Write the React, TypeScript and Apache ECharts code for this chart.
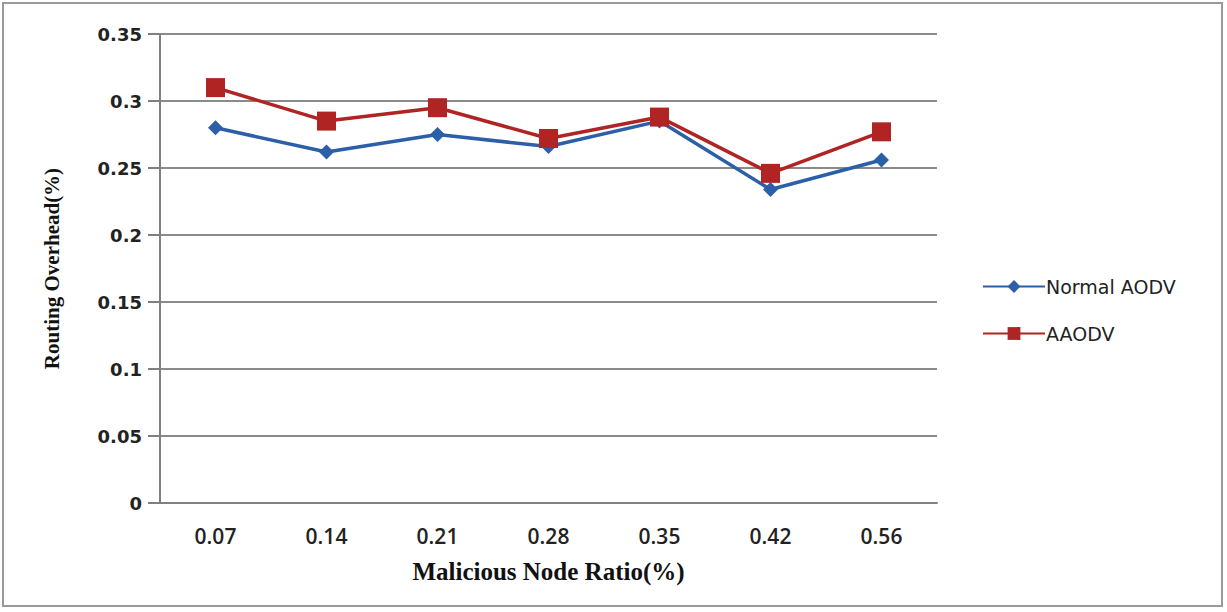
import React, { useEffect, useRef } from "react";
import * as echarts from "echarts";

const categories = ["0.07", "0.14", "0.21", "0.28", "0.35", "0.42", "0.56"];
const normalAODV = [0.28, 0.262, 0.275, 0.266, 0.285, 0.234, 0.256];
const aaodv = [0.31, 0.285, 0.295, 0.272, 0.288, 0.246, 0.277];
const seriesNames = ["Normal AODV", "AAODV"];

export default function App() {
  const ref = useRef<HTMLDivElement>(null);
  useEffect(() => {
    const chart = echarts.init(ref.current!, null, { renderer: "svg" });
    chart.setOption({
      animation: false,
      backgroundColor: "#fff",
      graphic: [
        {
          type: "rect",
          shape: { x: 3, y: 3, width: 1219, height: 603 },
          style: { fill: "none", stroke: "#9a9a9a", lineWidth: 2 },
          silent: true,
        },
      ],
      grid: { left: 160, right: 290, top: 34, bottom: 109, containLabel: false },
      legend: {
        orient: "vertical",
        left: 977,
        top: 272,
        itemWidth: 62,
        itemHeight: 16,
        itemGap: 28,
        data: seriesNames,
        textStyle: { fontFamily: "DejaVu Sans", fontSize: 19, color: "#222", padding: [0, 0, 0, -4] },
      },
      xAxis: {
        type: "category",
        data: categories,
        boundaryGap: true,
        axisLine: { lineStyle: { color: "#808080", width: 2 } },
        axisTick: { show: false },
        axisLabel: {
          fontFamily: "Open Sans",
          fontWeight: 600,
          fontSize: 21,
          color: "#222",
          margin: 22,
        },
        name: "Malicious Node Ratio(%)",
        nameLocation: "middle",
        nameGap: 56,
        nameTextStyle: {
          fontFamily: "Liberation Serif",
          fontWeight: "bold",
          fontSize: 25,
          color: "#111",
        },
      },
      yAxis: {
        type: "value",
        min: 0,
        max: 0.35,
        interval: 0.05,
        axisLine: { show: true, lineStyle: { color: "#808080", width: 2 } },
        axisTick: { show: true, length: 12, lineStyle: { color: "#808080", width: 2 } },
        splitLine: { lineStyle: { color: "#8a8a8a", width: 2 } },
        axisLabel: {
          fontFamily: "DejaVu Sans",
          fontWeight: "bold",
          fontSize: 18,
          color: "#222",
          margin: 18,
          formatter: (v: number) => String(Number(v.toFixed(2))),
        },
        name: "Routing Overhead(%)",
        nameLocation: "middle",
        nameGap: 98,
        nameTextStyle: {
          fontFamily: "Liberation Serif",
          fontWeight: "bold",
          fontSize: 21,
          color: "#111",
        },
      },
      series: [
        {
          name: seriesNames[0],
          type: "line",
          data: normalAODV,
          symbol: "diamond",
          symbolSize: 15,
          lineStyle: { color: "#2b5fa8", width: 3.5 },
          itemStyle: { color: "#2b5fa8" },
        },
        {
          name: seriesNames[1],
          type: "line",
          data: aaodv,
          symbol: "rect",
          symbolSize: 19,
          lineStyle: { color: "#b02424", width: 3.5 },
          itemStyle: { color: "#b02424" },
        },
      ],
    });
    return () => chart.dispose();
  }, []);
  return <div ref={ref} style={{ width: 1227, height: 612, position: "absolute", left: 0, top: 0 }} />;
}
